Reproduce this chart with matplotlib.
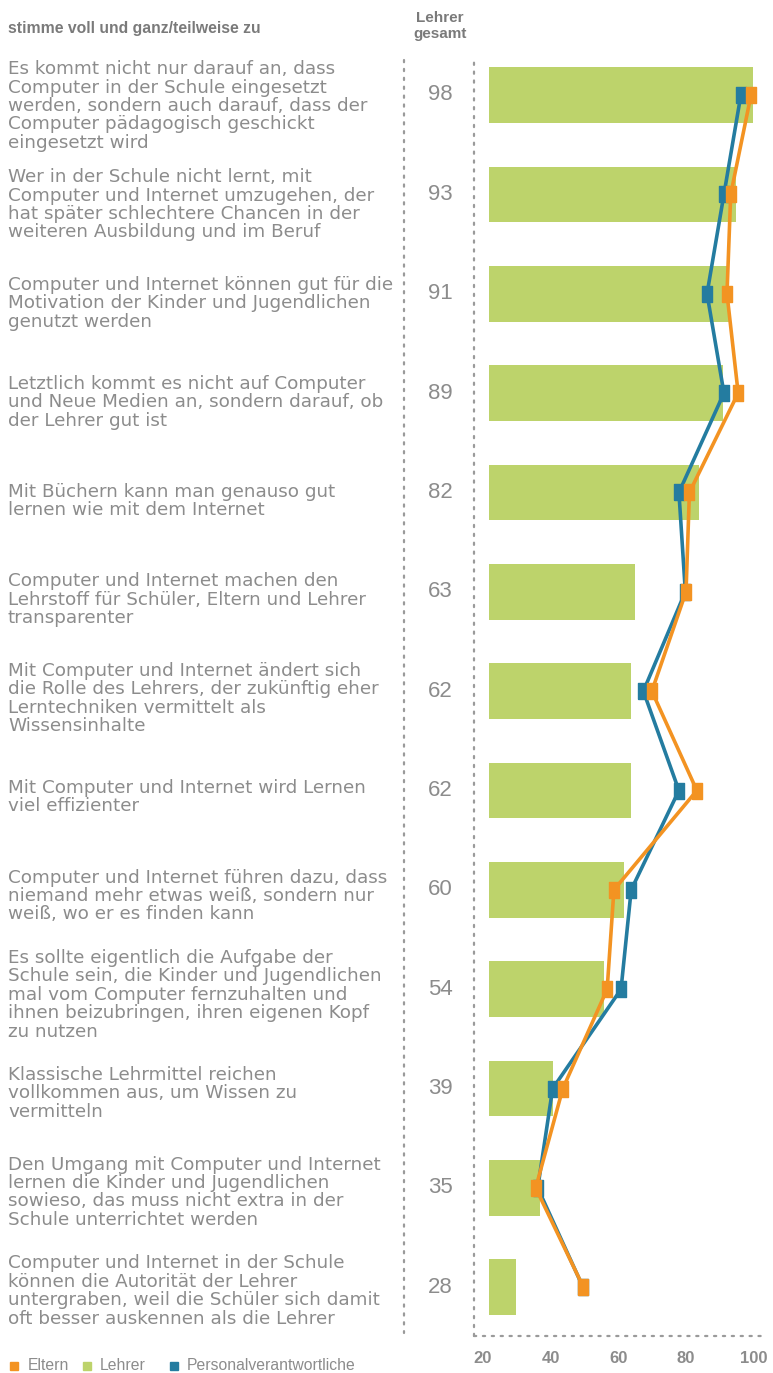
import matplotlib
matplotlib.use("Agg")
import matplotlib.pyplot as plt
from matplotlib.lines import Line2D
from matplotlib.patches import Rectangle
from matplotlib.transforms import blended_transform_factory, ScaledTranslation
import numpy as np

plt.rcParams['font.family'] = ['Liberation Sans', 'DejaVu Sans']

statements = [
    "Es kommt nicht nur darauf an, dass\nComputer in der Schule eingesetzt\nwerden, sondern auch darauf, dass der\nComputer pädagogisch geschickt\neingesetzt wird",
    "Wer in der Schule nicht lernt, mit\nComputer und Internet umzugehen, der\nhat später schlechtere Chancen in der\nweiteren Ausbildung und im Beruf",
    "Computer und Internet können gut für die\nMotivation der Kinder und Jugendlichen\ngenutzt werden",
    "Letztlich kommt es nicht auf Computer\nund Neue Medien an, sondern darauf, ob\nder Lehrer gut ist",
    "Mit Büchern kann man genauso gut\nlernen wie mit dem Internet",
    "Computer und Internet machen den\nLehrstoff für Schüler, Eltern und Lehrer\ntransparenter",
    "Mit Computer und Internet ändert sich\ndie Rolle des Lehrers, der zukünftig eher\nLerntechniken vermittelt als\nWissensinhalte",
    "Mit Computer und Internet wird Lernen\nviel effizienter",
    "Computer und Internet führen dazu, dass\nniemand mehr etwas weiß, sondern nur\nweiß, wo er es finden kann",
    "Es sollte eigentlich die Aufgabe der\nSchule sein, die Kinder und Jugendlichen\nmal vom Computer fernzuhalten und\nihnen beizubringen, ihren eigenen Kopf\nzu nutzen",
    "Klassische Lehrmittel reichen\nvollkommen aus, um Wissen zu\nvermitteln",
    "Den Umgang mit Computer und Internet\nlernen die Kinder und Jugendlichen\nsowieso, das muss nicht extra in der\nSchule unterrichtet werden",
    "Computer und Internet in der Schule\nkönnen die Autorität der Lehrer\nuntergraben, weil die Schüler sich damit\noft besser auskennen als die Lehrer",
]
lehrer = [98, 93, 91, 89, 82, 63, 62, 62, 60, 54, 39, 35, 28]
eltern = [97.4, 91.4, 90.3, 93.6, 79.2, 78.2, 68.1, 81.4, 56.9, 54.9, 41.8, 33.8, 47.9]
personal = [94.4, 89.4, 84.4, 89.4, 76.1, 78.0, 65.6, 76.1, 62.0, 59.0, 38.8, 34.4, 47.8]
xticks = [20, 40, 60, 80, 100]
series_names = ["Eltern", "Lehrer", "Personalverantwortliche"]

ORANGE = "#f39322"
GREEN = "#bdd36b"
BLUE = "#247ca0"
GRAY = "#8c8c8c"
DOTGRAY = "#9a9a9a"

W, H = 773, 1373
fig = plt.figure(figsize=(W / 100, H / 100), dpi=100)

def fx(px):
    return px / W

def fy(py):
    return 1 - py / H

ax_left, ax_right, ax_top, ax_bottom = 474, 766.6, 60, 1336
ax = fig.add_axes([fx(ax_left), fy(ax_bottom), fx(ax_right - ax_left), (ax_bottom - ax_top) / H])

idx = np.arange(len(lehrer))
base = 20
ax.barh(idx, np.array(lehrer) - base, left=base, height=0.56, color=GREEN, zorder=1)

rect = [(-5, -7), (5, -7), (5, 7), (-5, 7), (-5, -7)]
ax.plot(personal, idx, color=BLUE, lw=2.6, marker=rect, ms=11, zorder=3)
ax.plot(eltern, idx, color=ORANGE, lw=2.6, marker=rect, ms=11, zorder=4)

ax.set_xlim(15.57, 102)
ax.set_ylim(12.49, -0.352)
ax.set_yticks([])
ax.set_xticks(xticks)
ax.set_xticklabels([str(t) for t in xticks], fontsize=12, fontweight='bold', color=GRAY)
ax.tick_params(axis='x', length=0, pad=11)
for lbl in ax.get_xticklabels():
    lbl.set_transform(lbl.get_transform() + ScaledTranslation(-6 / 100, 0, fig.dpi_scale_trans))

for s in ['top', 'right']:
    ax.spines[s].set_visible(False)
for s in ['left', 'bottom']:
    ax.spines[s].set_color(DOTGRAY)
    ax.spines[s].set_linewidth(1.6)
    ax.spines[s].set_linestyle((0, (1, 3)))
    ax.spines[s].set_capstyle('round')

# second dotted vertical line between labels and numbers
fig.add_artist(Line2D([fx(404), fx(404)], [fy(60), fy(1333)], color=DOTGRAY, lw=1.6,
                      linestyle=(0, (1, 3)), dash_capstyle='round'))

# Lehrer gesamt numbers
trans = blended_transform_factory(fig.transFigure, ax.transData)
for i, v in enumerate(lehrer):
    ax.text(fx(440), i, str(v), transform=trans, ha='center', va='center',
            fontsize=16, color=GRAY, clip_on=False)

# statements
for i, s in enumerate(statements):
    fig.text(fx(8), fy(106 + 98.75 * i), s, ha='left', va='center', fontsize=13.2,
             color=GRAY, linespacing=1.03, family=['DejaVu Sans'])

# header
fig.text(fx(8), fy(28), "stimme voll und ganz/teilweise zu", ha='left', va='center',
         fontsize=11.3, fontweight='bold', color="#7a7a7a")
fig.text(fx(440), fy(26), "Lehrer\ngesamt", ha='center', va='center',
         fontsize=11, fontweight='bold', color="#7a7a7a", linespacing=1.15)

# legend
legend_items = [(14, 28, ORANGE), (87, 100, GREEN), (174, 187, BLUE)]
for (sx, tx, c), name in zip(legend_items, series_names):
    fig.add_artist(Rectangle((fx(sx - 4), fy(1370)), fx(8), 8 / H, color=c,
                             transform=fig.transFigure))
    fig.text(fx(tx), fy(1366), name, ha='left', va='center', fontsize=11.3, color=GRAY)

fig.savefig("out.png", dpi=100)
